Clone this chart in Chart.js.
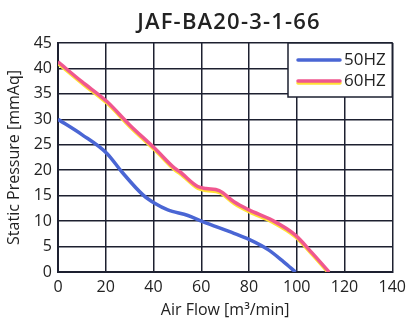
<!DOCTYPE html>
<html>
<head>
<meta charset="utf-8">
<script src="https://cdn.jsdelivr.net/npm/chart.js@4/dist/chart.umd.min.js"></script>
<style>
  html, body { margin: 0; padding: 0; background: #fff; }
  #wrap { width: 412px; height: 326px; }
</style>
</head>
<body>
<div id="wrap"><canvas id="c" width="412" height="326"></canvas></div>
<script>
// Fan performance curves: static pressure vs. air flow
const chartTitle = 'JAF-BA20-3-1-66';
const seriesLabels = ['50HZ', '60HZ'];

const flow50     = [0, 10, 20.5, 26.7, 35.7, 40.5, 46, 54.4, 60.6, 73.7, 80, 88.3, 94.5, 99.5];
const pressure50 = [30, 27.0, 23.3, 19.7, 15.1, 13.5, 12.2, 11.1, 9.9, 7.6, 6.4, 4.3, 2.0, 0];

const flow60     = [0, 10, 20.5, 30, 40.5, 48.8, 51, 58.5, 62, 67.5, 73.7, 80, 89.6, 99.3, 106.5, 113.5];
const pressure60 = [41.3, 37.4, 33.5, 28.9, 24.3, 20.4, 19.7, 16.8, 16.4, 16.0, 13.8, 12.2, 10.2, 7.3, 3.7, 0];

const xTicks = [0, 20, 40, 60, 80, 100, 120, 140];
const yTicks = [0, 5, 10, 15, 20, 25, 30, 35, 40, 45];

const BLUE = '#4a66d4';
const PINK = '#f0578f';
const YELLOW = '#ffe135';
const GRID = '#1d2030';
const TEXT = '#222';
const FONT = "'Open Sans', sans-serif";

const toPoints = (xs, ys) => xs.map((x, i) => ({ x: x, y: ys[i] }));

// yellow edge under the 60HZ curve
const glowPlugin = {
  id: 'glow',
  beforeDatasetDraw(chart, args) {
    if (args.index === 1) {
      const ctx = chart.ctx;
      ctx.save();
      ctx.shadowColor = YELLOW;
      ctx.shadowOffsetX = 0.5;
      ctx.shadowOffsetY = 2;
      ctx.shadowBlur = 0;
    }
  },
  afterDatasetDraw(chart, args) {
    if (args.index === 1) chart.ctx.restore();
  }
};

// title and boxed legend inside the plot
const decorPlugin = {
  id: 'decor',
  afterDraw(chart) {
    const ctx = chart.ctx;
    const area = chart.chartArea;
    ctx.save();
    ctx.fillStyle = TEXT;
    ctx.font = "600 22px " + FONT;
    ctx.letterSpacing = '1.2px';
    ctx.textAlign = 'center';
    ctx.textBaseline = 'middle';
    ctx.fillText(chartTitle, 229, 23);
    ctx.letterSpacing = '0px';

    const bx = 288, by = area.top, bw = area.right - 288, bh = 54;
    ctx.fillStyle = '#fff';
    ctx.fillRect(bx, by, bw, bh);
    ctx.strokeStyle = GRID;
    ctx.lineWidth = 1.5;
    ctx.strokeRect(bx, by, bw, bh);

    const rows = [by + 17, by + 38];
    chart.data.datasets.forEach((ds, i) => {
      const y = rows[i];
      ctx.save();
      if (i === 1) {
        ctx.shadowColor = YELLOW;
        ctx.shadowOffsetY = 2;
        ctx.shadowBlur = 0;
      }
      ctx.strokeStyle = ds.borderColor;
      ctx.lineWidth = 3.5;
      ctx.lineCap = 'round';
      ctx.beginPath();
      ctx.moveTo(298, y);
      ctx.lineTo(340, y);
      ctx.stroke();
      ctx.restore();
      ctx.fillStyle = TEXT;
      ctx.font = "17px " + FONT;
      ctx.textAlign = 'left';
      ctx.textBaseline = 'middle';
      ctx.fillText(ds.label, 344, y);
    });
    ctx.restore();
  }
};

new Chart(document.getElementById('c'), {
  type: 'line',
  data: {
    datasets: [
      {
        label: seriesLabels[0],
        data: toPoints(flow50, pressure50),
        borderColor: BLUE,
        borderWidth: 3.5,
        pointRadius: 0,
        cubicInterpolationMode: 'monotone',
        fill: false
      },
      {
        label: seriesLabels[1],
        data: toPoints(flow60, pressure60),
        borderColor: PINK,
        borderWidth: 3.5,
        pointRadius: 0,
        cubicInterpolationMode: 'monotone',
        fill: false
      }
    ]
  },
  options: {
    responsive: false,
    animation: false,
    devicePixelRatio: 1,
    layout: { padding: { top: 43, right: 18, left: 0, bottom: 0 } },
    plugins: {
      legend: { display: false },
      title: { display: false },
      tooltip: { enabled: false }
    },
    scales: {
      x: {
        type: 'linear',
        min: 0,
        max: 140,
        afterFit(scale) { scale.height = 54; },
        afterBuildTicks(scale) { scale.ticks = xTicks.map(v => ({ value: v })); },
        grid: { color: GRID, lineWidth: 1.5, drawTicks: false },
        border: { color: GRID, width: 2 },
        ticks: { color: TEXT, font: { family: FONT, size: 16 }, padding: 6, maxRotation: 0 },
        title: {
          display: true,
          text: 'Air Flow [m³/min]',
          color: TEXT,
          font: { family: FONT, size: 16 },
          padding: { top: 0, bottom: 6 }
        }
      },
      y: {
        type: 'linear',
        min: 0,
        max: 45,
        afterFit(scale) { scale.width = 58; },
        afterBuildTicks(scale) { scale.ticks = yTicks.map(v => ({ value: v })); },
        grid: { color: GRID, lineWidth: 1.5, drawTicks: false },
        border: { color: GRID, width: 2 },
        ticks: { color: TEXT, font: { family: FONT, size: 16 }, padding: 6 },
        title: {
          display: true,
          text: 'Static Pressure [mmAq]',
          color: TEXT,
          font: { family: FONT, size: 16 },
          padding: { top: 5, bottom: 0 }
        }
      }
    }
  },
  plugins: [glowPlugin, decorPlugin]
});
</script>
</body>
</html>
